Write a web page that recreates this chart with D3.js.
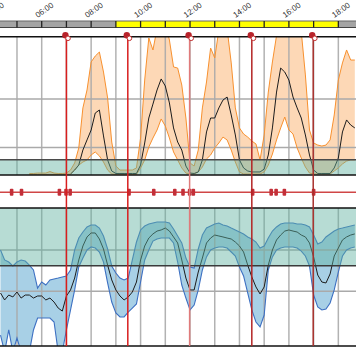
<!DOCTYPE html>
<html><head><meta charset="utf-8">
<script src="https://cdn.jsdelivr.net/npm/d3@7"></script>
<style>body{margin:0;background:#fff}svg{display:block}</style>
</head><body><svg id="c" width="356" height="364"></svg>
<script>
// ---------- DATA ----------
const times = [
 "04:20","04:30","04:40","04:50",
 "05:00","05:10","05:20","05:30","05:40","05:50",
 "06:00","06:10","06:20","06:30","06:40","06:50",
 "07:00","07:10","07:20","07:30","07:40","07:50",
 "08:00","08:10","08:20","08:30","08:40","08:50",
 "09:00","09:10","09:20","09:30","09:40","09:50",
 "10:00","10:10","10:20","10:30","10:40","10:50",
 "11:00","11:10","11:20","11:30","11:40","11:50",
 "12:00","12:10","12:20","12:30","12:40","12:50",
 "13:00","13:10","13:20","13:30","13:40","13:50",
 "14:00","14:10","14:20","14:30","14:40","14:50",
 "15:00","15:10","15:20","15:30","15:40","15:50",
 "16:00","16:10","16:20","16:30","16:40","16:50",
 "17:00","17:10","17:20","17:30","17:40","17:50",
 "18:00","18:10","18:20","18:30","18:40"];

// panel 1 (orange band + median)
const p1Upper = [null,null,null,null, null,null,null,1.1,1.1,1.4,
 1.4,1.4,2.5,1.4,1.1,1.1,
 1.4,3.6,8.7,19.6,48.6,61.6,
 81.9,86.2,89.1,74.6,55.8,23.9,
 6.5,3.6,3.6,3.6,3.6,5.1,
 26.8,68.8,99.3,90.6,106,110,
 109,97.8,78.3,77.5,65.2,41.3,
 8.7,6.5,18.1,48.6,67.4,92.0,
 84.8,105,110,106,81.2,48.6,
 34.1,29.7,27.5,24.6,22.5,10.9,
 29.0,60.1,81.9,101,108,112,
 110,108,110,104,72.5,32.6,
 23.2,21.7,21.0,21.7,25.4,43.5,
 68.8,81.2,90.6,83.3,83.3];
const p1Lower = [null,null,null,null, null,null,null,0.4,0.4,0.4,
 0.4,0.4,0.4,0.4,0.4,0.4,
 0.4,0.7,3.6,7.2,9.4,10.9,
 14.5,16.7,13.8,9.4,3.6,0.7,
 0.4,0.4,0.4,0.4,0.4,0.4,
 5.1,10.9,20.3,26.8,32.6,40.6,
 35.5,26.8,16.7,10.9,5.1,1.4,
 0.7,0.7,2.2,5.8,11.6,14.5,
 19.6,23.2,27.5,25.4,18.1,9.4,
 2.2,0.7,0.7,0.7,0.7,0.7,
 2.2,7.2,15.2,25.4,34.1,42.0,
 32.6,29.7,19.6,12.3,5.8,1.4,
 0.7,0.7,0.7,0.7,0.7,2.9,
 5.1,8.0,10.1,10.9,10.9];
const p1Median = [null,null,null,null, null,null,null,null,null,null,
 null,null,null,null,null,null,
 null,0.7,3.6,7.2,18.1,25.4,
 32.6,44.9,47.1,28.3,10.9,2.9,
 1.1,1.1,1.1,1.1,1.1,1.1,
 7.2,23.2,41.3,51.4,61.6,69.6,
 64.5,52.2,34.1,23.9,18.1,6.5,
 1.4,1.1,2.2,10.9,31.2,41.3,
 41.3,48.6,54.3,56.5,43.5,29.0,
 10.9,5.1,2.9,2.2,2.2,2.2,
 4.3,14.5,34.1,60.1,77.5,74.6,
 68.8,56.5,48.6,41.3,29.0,14.5,
 3.6,1.1,1.1,1.1,1.1,5.1,
 12.3,31.2,39.9,36.2,34.1];

// panel 2 (blue band + median)
const p2Upper = [70.1,62.8,61.3,58.4,
 61.3,62.8,62.0,59.1,55.5,42.3,
 46.7,44.5,48.2,48.9,49.6,50.4,
 51.1,55.5,70.1,78.8,83.2,86.9,
 88.3,88.3,86.1,80.3,70.8,58.4,
 53.3,49.6,48.2,49.6,62.8,75.9,
 84.7,87.6,89.1,89.8,90.5,90.5,
 90.5,89.8,85.4,80.3,75.2,64.2,
 57.7,56.9,70.8,81.0,86.1,87.6,
 89.1,89.8,88.3,87.6,86.1,84.7,
 83.2,81.8,79.6,78.1,75.9,71.5,
 73.0,78.8,83.9,86.9,89.1,89.8,
 89.8,89.8,89.1,89.1,88.3,86.9,
 81.0,74.5,75.9,79.6,81.8,83.9,
 85.4,86.1,86.9,87.6,88.3];
const p2Median = [38.7,33.6,37.2,35.8,
 39.4,35.0,37.2,37.2,35.0,36.5,
 36.5,33.6,35.0,32.1,27.7,25.5,
 36.5,40.9,49.6,62.8,73.0,79.6,
 82.5,82.5,78.1,70.8,59.1,48.2,
 40.9,36.5,33.6,35.8,39.4,46.7,
 62.8,73.0,78.8,81.8,83.9,84.7,
 86.1,83.9,79.6,75.2,62.8,49.6,
 40.9,40.9,54.0,64.2,75.2,78.8,
 81.0,80.3,79.6,78.8,78.1,75.9,
 73.0,68.6,59.1,50.4,43.1,38.0,
 43.1,59.1,70.1,77.4,81.0,83.9,
 84.7,83.9,83.2,81.0,79.6,75.2,
 65.0,51.8,46.7,46.0,52.6,65.7,
 71.5,77.4,79.6,81.0,81.8];
const p2Lower = [8.0,-4.4,11.7,-4.4,
 5.8,-4.4,-4.4,-4.4,11.7,20.4,
 20.4,20.4,20.4,17.5,-4.4,-4.4,
 11.7,26.3,40.9,57.7,64.2,70.1,
 72.3,71.5,68.6,61.3,46.0,32.1,
 24.1,21.2,21.2,24.8,27.7,30.7,
 46.7,62.8,70.1,76.6,78.1,78.8,
 78.8,78.8,75.2,61.3,44.5,35.0,
 26.3,29.9,40.9,55.5,65.0,70.1,
 71.5,72.3,72.3,71.5,68.6,65.7,
 57.7,51.1,38.7,26.3,17.5,13.9,
 22.6,55.5,65.0,70.1,71.5,72.3,
 72.3,72.3,71.5,69.3,65.7,58.4,
 37.2,28.5,26.3,27.0,31.4,40.9,
 54.0,65.7,70.1,71.5,72.3];

const tickLabels = ["04:00","06:00","08:00","10:00","12:00","14:00","16:00","18:00"];
const dayStart = "09:00", dayEnd = "18:00";
const p1Grid = [20, 55];
const p1Teal = [0, 11];
const p2Grid = [40, 70];
const p2Teal = [58.5, 100];
const eventTimes = ["07:00","09:29","11:59","14:30","16:59"];
const eventColors = ["#d81e1e","#d81e1e","#e07a7a","#b32424","#a8302c"];
const markerTimes = ["04:47","05:11","06:43","06:59","07:09","09:32","10:32","11:23","11:43","11:59","12:08","14:32","15:17","15:29","15:49","17:00"];

// ---------- SCALES ----------
const T = s => { const p = s.split(":").map(Number); return new Date(2020,0,1,p[0],p[1],p[2]||0); };
const W = 356;
const x = d3.scaleTime().domain([T("04:18:47"), T("18:42:52")]).range([0, W]);
const y1 = d3.scaleLinear().domain([0,100]).range([175,37]);
const y2 = d3.scaleLinear().domain([0,100]).range([346,209]);

const svg = d3.select("#c");
const defs = svg.append("defs");
defs.append("clipPath").attr("id","cp1").append("rect").attr("x",0).attr("y",37).attr("width",W).attr("height",138);
defs.append("clipPath").attr("id","cp2").append("rect").attr("x",0).attr("y",208).attr("width",W).attr("height",138);

const rows = times.map((t,i)=>({t:T(t), u1:p1Upper[i], l1:p1Lower[i], m1:p1Median[i], u2:p2Upper[i], l2:p2Lower[i], m2:p2Median[i]}));
const hours = d3.timeHour.range(T("05:00"), T("18:30"));

// ---------- TOP BAR ----------
const bar = svg.append("g");
bar.append("rect").attr("x",0).attr("y",21).attr("width",x(T(dayStart))).attr("height",6.5).attr("fill","#a4a4a4");
bar.append("rect").attr("x",x(T(dayStart))).attr("y",21).attr("width",x(T(dayEnd))-x(T(dayStart))).attr("height",6.5).attr("fill","#ffff00");
bar.append("rect").attr("x",x(T(dayEnd))).attr("y",21).attr("width",W-x(T(dayEnd))).attr("height",6.5).attr("fill","#a4a4a4");
bar.append("line").attr("x1",0).attr("x2",W).attr("y1",21).attr("y2",21).attr("stroke","#666").attr("stroke-width",1);
bar.append("line").attr("x1",0).attr("x2",W).attr("y1",27.5).attr("y2",27.5).attr("stroke","#444").attr("stroke-width",1);
bar.selectAll("line.tk").data(hours).enter().append("line").attr("class","tk")
  .attr("x1",d=>x(d)).attr("x2",d=>x(d)).attr("y1",21).attr("y2",27.5).attr("stroke","#222").attr("stroke-width",1.3);
svg.selectAll("text.lab").data(tickLabels).enter().append("text").attr("class","lab")
  .attr("transform",d=>`translate(${x(T(d))-4},18) rotate(-35)`)
  .attr("font-family","Liberation Sans, Arial, sans-serif").attr("font-size",8).attr("fill","#2a2a2a")
  .text(d=>d);

// ---------- PANEL 1 ----------
const P1 = svg.append("g").attr("clip-path","url(#cp1)");
P1.append("path").datum(rows).attr("fill","#fdd8b6")
  .attr("d", d3.area().defined(d=>d.u1!=null).x(d=>x(d.t)).y0(d=>y1(d.l1)).y1(d=>y1(d.u1)));
P1.selectAll("line.vg").data(hours).enter().append("line")
  .attr("x1",d=>x(d)).attr("x2",d=>x(d)).attr("y1",37).attr("y2",175).attr("stroke","#aaaaaa").attr("stroke-opacity",0.9).attr("stroke-width",1.5);
P1.selectAll("line.hg").data(p1Grid).enter().append("line")
  .attr("x1",0).attr("x2",W).attr("y1",d=>y1(d)).attr("y2",d=>y1(d)).attr("stroke","#aaaaaa").attr("stroke-width",1.5);
["u1","l1"].forEach(k=>{
  P1.append("path").datum(rows).attr("fill","none").attr("stroke","#f8912f").attr("stroke-width",1)
    .attr("d", d3.line().defined(d=>d[k]!=null).x(d=>x(d.t)).y(d=>y1(d[k])));
});
P1.append("path").datum(rows).attr("fill","none").attr("stroke","#1c1c1c").attr("stroke-width",1)
  .attr("d", d3.line().defined(d=>d.m1!=null).x(d=>x(d.t)).y(d=>y1(d.m1)));
svg.append("rect").attr("x",0).attr("y",y1(p1Teal[1])).attr("width",W).attr("height",y1(p1Teal[0])-y1(p1Teal[1]))
  .attr("fill","rgb(95,178,160)").attr("fill-opacity",0.45);
svg.append("line").attr("x1",0).attr("x2",W).attr("y1",y1(p1Teal[1])).attr("y2",y1(p1Teal[1])).attr("stroke","#4a4a4a").attr("stroke-width",1.5);
svg.append("line").attr("x1",0).attr("x2",W).attr("y1",175).attr("y2",175).attr("stroke","#111").attr("stroke-width",1.5);
svg.append("line").attr("x1",0).attr("x2",W).attr("y1",36.7).attr("y2",36.7).attr("stroke","#111").attr("stroke-width",1.5);

// ---------- PANEL 2 ----------
const P2 = svg.append("g").attr("clip-path","url(#cp2)");
P2.append("path").datum(rows).attr("fill","#a8d0e6")
  .attr("d", d3.area().x(d=>x(d.t)).y0(d=>y2(d.l2)).y1(d=>y2(d.u2)));
P2.selectAll("line.vg").data(hours).enter().append("line")
  .attr("x1",d=>x(d)).attr("x2",d=>x(d)).attr("y1",208).attr("y2",346).attr("stroke","#aaaaaa").attr("stroke-opacity",0.9).attr("stroke-width",1.5);
P2.selectAll("line.hg").data(p2Grid).enter().append("line")
  .attr("x1",0).attr("x2",W).attr("y1",d=>y2(d)).attr("y2",d=>y2(d)).attr("stroke","#aaaaaa").attr("stroke-width",1.5);
["u2","l2"].forEach(k=>{
  P2.append("path").datum(rows).attr("fill","none").attr("stroke","#3d70c2").attr("stroke-width",1.1)
    .attr("d", d3.line().x(d=>x(d.t)).y(d=>y2(d[k])));
});
P2.append("path").datum(rows).attr("fill","none").attr("stroke","#1c1c1c").attr("stroke-width",1)
  .attr("d", d3.line().x(d=>x(d.t)).y(d=>y2(d.m2)));
svg.append("rect").attr("x",0).attr("y",208).attr("width",W).attr("height",y2(p2Teal[0])-208)
  .attr("fill","rgb(95,178,160)").attr("fill-opacity",0.45);
svg.append("line").attr("x1",0).attr("x2",W).attr("y1",y2(p2Teal[0])).attr("y2",y2(p2Teal[0])).attr("stroke","#3a3a3a").attr("stroke-width",1.5);
svg.append("line").attr("x1",0).attr("x2",W).attr("y1",208).attr("y2",208).attr("stroke","#111").attr("stroke-width",1.5);
svg.append("line").attr("x1",0).attr("x2",W).attr("y1",346).attr("y2",346).attr("stroke","#111").attr("stroke-width",1.5);

// ---------- MIDDLE STRIP ----------
svg.append("line").attr("x1",0).attr("x2",W).attr("y1",192.3).attr("y2",192.3).attr("stroke","#d04646").attr("stroke-width",1.5);
svg.selectAll("rect.mk").data(markerTimes).enter().append("rect").attr("class","mk")
  .attr("x",d=>x(T(d))-1.8).attr("y",188.8).attr("width",3.6).attr("height",7).attr("rx",1)
  .attr("fill","#c32f38");

// ---------- EVENTS ----------
eventTimes.forEach((t,i)=>{
  const ex = x(T(t));
  svg.append("line").attr("x1",ex).attr("x2",ex).attr("y1",37).attr("y2",346).attr("stroke",eventColors[i]).attr("stroke-width",1.5);
  svg.append("circle").attr("cx",ex-1).attr("cy",35.3).attr("r",3.2).attr("fill","#b8232b");
  svg.append("circle").attr("cx",ex+1.6).attr("cy",38.3).attr("r",2.3).attr("fill","#fff").attr("stroke","#c23030").attr("stroke-width",1);
});
</script></body></html>
